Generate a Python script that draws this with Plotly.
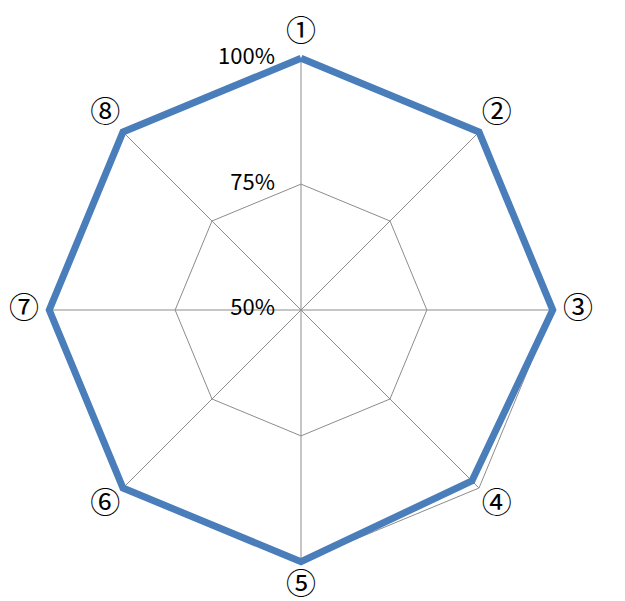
import plotly.graph_objects as go

categories = ["①", "②", "③", "④", "⑤", "⑥", "⑦", "⑧"]
values = [100, 100, 100, 98, 100, 100, 100, 100]
tick_vals = [50, 75, 100]
tick_text = ["50%", "75%", "100%"]

r_min, r_max = 50, 100
label_r = 105.0
grid_color = "#8c8c8c"

fig = go.Figure()

# spokes (from centre to the 100% ring)
spoke_r, spoke_t = [], []
for c in categories:
    spoke_r += [r_min, r_max, None]
    spoke_t += [c, c, None]
fig.add_trace(go.Scatterpolar(
    r=spoke_r, theta=spoke_t, mode="lines",
    line=dict(color=grid_color, width=1),
    hoverinfo="skip", showlegend=False,
))

# data series
fig.add_trace(go.Scatterpolar(
    r=values + values[:1],
    theta=categories + categories[:1],
    mode="lines",
    line=dict(color="#4a7ebb", width=7),
    showlegend=False,
))

# radial tick labels, placed left of the vertical axis
fig.add_trace(go.Scatterpolar(
    r=[v + 0.01 for v in tick_vals],
    theta=[categories[0]] * len(tick_vals),
    mode="markers+text",
    text=tick_text,
    textposition="middle left",
    marker=dict(size=40, color="rgba(0,0,0,0)"),
    textfont=dict(size=22, color="black", family="Noto Sans CJK JP"),
    cliponaxis=False,
    hoverinfo="skip",
    showlegend=False,
))

# category labels outside the outer ring
fig.add_trace(go.Scatterpolar(
    r=[label_r] * len(categories),
    theta=categories,
    mode="text",
    text=categories,
    textposition="middle center",
    textfont=dict(size=30, color="black", family="Noto Sans CJK JP"),
    cliponaxis=False,
    hoverinfo="skip",
    showlegend=False,
))

fig.update_layout(
    width=625, height=601,
    margin=dict(l=0, r=0, t=0, b=0),
    paper_bgcolor="white",
    plot_bgcolor="white",
    font=dict(family="Noto Sans CJK JP", color="black"),
    polar=dict(
        domain=dict(x=[6/625, 580/625], y=[1-589/601, 1-15/601]),
        bgcolor="rgba(0,0,0,0)",
        gridshape="linear",
        radialaxis=dict(
            range=[r_min, 107],
            tickvals=tick_vals,
            showticklabels=False,
            angle=90,
            showline=False,
            ticks="",
            gridcolor=grid_color,
            gridwidth=1,
            layer="below traces",
        ),
        angularaxis=dict(
            direction="clockwise",
            rotation=90,
            showgrid=False,
            showline=False,
            showticklabels=False,
            ticks="",
        ),
    ),
)

fig.write_html("out.html")
